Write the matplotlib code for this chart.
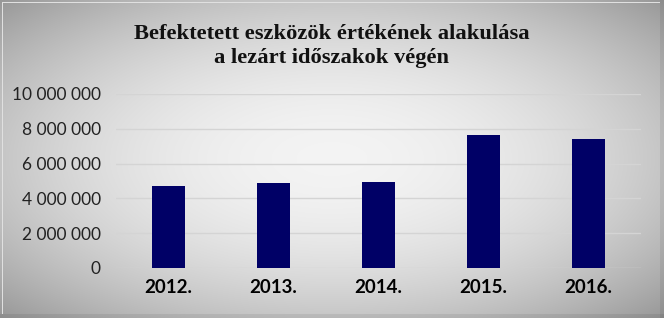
import numpy as np
import matplotlib
matplotlib.use("Agg")
import matplotlib.pyplot as plt
from matplotlib.ticker import FuncFormatter

# adatok
evek = ["2012.", "2013.", "2014.", "2015.", "2016."]
ertekek = [4710000, 4890000, 4940000, 7640000, 7410000]
y_tickek = [0, 2000000, 4000000, 6000000, 8000000, 10000000]

cim = "Befektetett eszközök értékének alakulása\na lezárt időszakok végén"


def ezres(v, pos):
    return "{:,.0f}".format(v).replace(",", " ")


W, H = 664, 318
fig = plt.figure(figsize=(W / 100, H / 100), dpi=100)

# háttér: radiális színátmenet
bg = fig.add_axes([0, 0, 1, 1])
xx, yy = np.meshgrid(np.linspace(-1, 1, W), np.linspace(-1, 1, H))
r2 = xx ** 2 + yy ** 2
g = 0.955 - 0.18 * np.clip(r2, 0, 2)
img = np.dstack([g, g, g])
# keret
img[:, -4:, :] *= 0.93
img[-4:, :, :] *= 0.93
img[2, 2:-4, :] = 0.88
img[2:-4, 2, :] = 0.88
bg.imshow(img, aspect="auto", extent=[0, 1, 0, 1], interpolation="bilinear")
bg.set_axis_off()

ax = fig.add_axes([116 / W, 1 - 268 / H, (641 - 116) / W, (268 - 94) / H])
ax.patch.set_alpha(0)

x = np.arange(len(evek))
ax.bar(x, ertekek, width=0.31, color="#000066", zorder=3)

ax.set_xlim(-0.5, len(evek) - 0.5)
ax.set_ylim(0, 10000000)
ax.set_yticks(y_tickek)
ax.yaxis.set_major_formatter(FuncFormatter(ezres))
ax.grid(axis="y", color="#d4d4d4", linewidth=1, zorder=0)
ax.set_xticks(x)
ax.set_xticklabels(evek, fontfamily="Lato", fontweight="bold", fontsize=13.5)
for lab in ax.get_yticklabels():
    lab.set_fontfamily("Lato")
    lab.set_fontsize(12.5)
    lab.set_color("#222222")
ax.tick_params(axis="both", length=0)
ax.tick_params(axis="y", pad=11)
ax.tick_params(axis="x", pad=8)
for s in ax.spines.values():
    s.set_visible(False)

fig.text(0.5, 1 - 46 / H, cim, ha="center", va="center", fontfamily="Liberation Serif",
         fontweight="bold", fontsize=16.2, linespacing=1.25, color="#111111")

fig.savefig("out.png", dpi=100)
